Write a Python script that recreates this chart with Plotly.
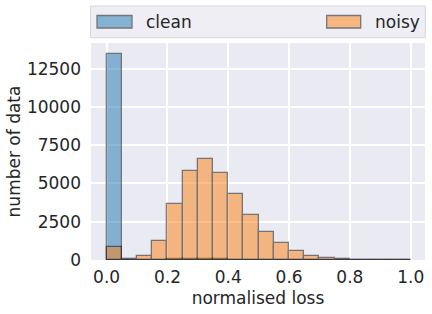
import plotly.graph_objects as go

bin_left = [round(i * 0.05, 2) for i in range(20)]
clean_counts = [13480, 20, 15, 20, 90, 90, 40, 40, 0, 0, 0, 0, 0, 0, 0, 0, 0, 0, 0, 0]
noisy_counts = [870, 45, 285, 1265, 3680, 5840, 6620, 5710, 4335, 2960, 1850, 1130, 610, 285, 150, 35, 20, 0, 0, 0]
series_names = ["clean", "noisy"]
x_ticks = [0.0, 0.2, 0.4, 0.6, 0.8, 1.0]
y_ticks = [0, 2500, 5000, 7500, 10000, 12500]

BLUE = "#1f77b4"
ORANGE = "#ff7f0e"
FONT = "DejaVu Sans"
TXT = "#262626"

centers = [b + 0.025 for b in bin_left]

fig = go.Figure()
for name, counts, col in [(series_names[0], clean_counts, BLUE), (series_names[1], noisy_counts, ORANGE)]:
    fig.add_trace(go.Bar(
        x=centers, y=counts, width=0.05, name=name,
        marker=dict(color=col, line=dict(color="black", width=1.3)),
        opacity=0.5, showlegend=False,
    ))

L, R, T, B = 91, 7, 43, 54
W, H = 432, 314
pw, ph = W - L - R, H - T - B


def px_x(p):
    return (p - L) / pw


def px_y(p):
    return (H - B - p) / ph


shapes = [
    dict(type="rect", xref="paper", yref="paper", x0=px_x(90.5), x1=px_x(425.3),
         y0=px_y(37.7), y1=px_y(6), fillcolor="#EEEEF4", line=dict(color="#D6D6D6", width=1), layer="below"),
    dict(type="rect", xref="paper", yref="paper", x0=px_x(97), x1=px_x(132),
         y0=px_y(28), y1=px_y(15.5), fillcolor=BLUE, opacity=0.5, line=dict(color="black", width=1.3)),
    dict(type="rect", xref="paper", yref="paper", x0=px_x(326.7), x1=px_x(360.7),
         y0=px_y(28), y1=px_y(15.5), fillcolor=ORANGE, opacity=0.5, line=dict(color="black", width=1.3)),
]
annotations = [
    dict(text=series_names[0], xref="paper", yref="paper", x=px_x(144), y=px_y(22),
         xanchor="left", yanchor="middle", showarrow=False, font=dict(size=17, color=TXT, family=FONT)),
    dict(text=series_names[1], xref="paper", yref="paper", x=px_x(373), y=px_y(22),
         xanchor="left", yanchor="middle", showarrow=False, font=dict(size=17, color=TXT, family=FONT)),
]

fig.update_layout(
    width=W, height=H,
    margin=dict(l=L, r=R, t=T, b=B, autoexpand=False),
    paper_bgcolor="white", plot_bgcolor="#EAEAF2",
    barmode="overlay", bargap=0,
    font=dict(family=FONT, size=17, color=TXT),
    shapes=shapes, annotations=annotations,
    xaxis=dict(range=[-0.0514, 1.047], tickvals=x_ticks, tickformat=".1f",
               showgrid=True, gridcolor="white", gridwidth=1.5, zeroline=False,
               showline=False, ticks="", ticklabelstandoff=5,
               title=dict(text="normalised loss", standoff=6, font=dict(size=17)),
               automargin=False),
    yaxis=dict(range=[0, 14180], tickvals=y_ticks, tickformat="d",
               showgrid=True, gridcolor="white", gridwidth=1.5, zeroline=False,
               showline=False, ticks="", ticklabelstandoff=9,
               title=dict(text="number of data", standoff=1, font=dict(size=17)),
               automargin=False),
)

fig.write_html("out.html", config={"displayModeBar": False},
               post_script="document.body.style.margin='0';document.body.style.padding='0';")
